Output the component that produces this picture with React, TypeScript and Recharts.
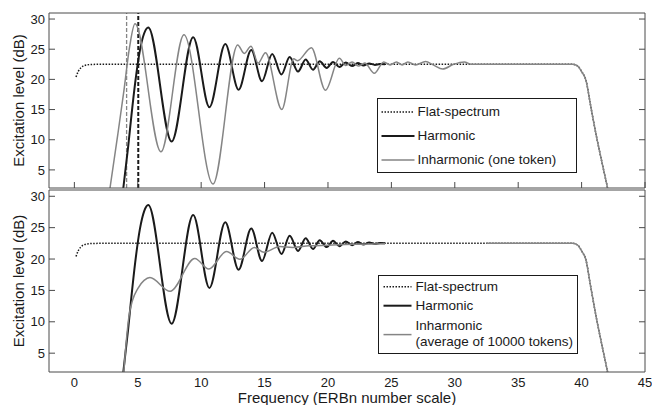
import React from "react";
import { LineChart, Line, XAxis, YAxis, ReferenceLine, Legend } from "recharts";

const W = 652;
const H = 405;
const FONT = '"Liberation Sans", Arial, Helvetica, sans-serif';
const INK = "#1a1a1a";
const GREY = "#858585";
const FRAME = "#4a4a4a";

const freqTicks = [0, 5, 10, 15, 20, 25, 30, 35, 40, 45];
const levelTicks = [5, 10, 15, 20, 25, 30];
const freqDomain: [number, number] = [-2, 45];
const levelDomain: [number, number] = [2, 31];

// all three patterns fall off together above ~39 ERBn
const rollOffF = [39.3, 39.7, 40.0, 40.35, 40.7, 41.1, 41.6, 42.05];
const rollOffDb = [22.5, 22.2, 21.3, 19.8, 15.8, 11.3, 6.3, 2.0];

const flatF = [0.13, 0.3, 0.5, 0.8, 1.2, 2.0, 30];
const flatDb = [20.4, 21.3, 21.9, 22.3, 22.45, 22.5, 22.5];

const harmonicF = [3.86, 4.25, 4.5, 4.8, 5.17, 5.5, 5.83, 7.67, 9.37, 10.65, 11.9, 12.95, 13.95, 14.8, 15.6, 16.33, 16.98, 17.64, 18.24, 18.82, 19.35, 19.9, 20.4, 20.9, 21.4, 21.9, 22.35, 22.8, 23.25, 23.7, 24.1, 24.5];
const harmonicDb = [2, 9, 14, 19.5, 24.8, 27.6, 28.6, 9.7, 27.0, 15.4, 25.85, 18.3, 24.85, 19.7, 24.2, 20.8, 23.7, 21.3, 23.3, 21.6, 23.0, 21.9, 22.9, 22.05, 22.8, 22.2, 22.7, 22.3, 22.65, 22.4, 22.55, 22.5];

const oneTokenF = [2.81, 3.4, 3.9, 4.35, 4.78, 6.83, 8.64, 10.93, 12.88, 13.39, 13.93, 14.49, 15.07, 16.36, 17.3, 17.6, 18.69, 19.8, 20.9, 21.4, 21.9, 22.4, 22.9, 23.65, 24.4, 24.9, 25.4, 25.85, 26.3, 26.9, 27.7, 28.3, 29.05, 29.9, 30.75, 31.3, 35];
const oneTokenDb = [2, 10.5, 18, 25.3, 29.2, 8.0, 27.4, 2.65, 25.7, 24.3, 25.5, 22.7, 24.4, 15.0, 23.4, 23.1, 25.25, 18.2, 23.5, 22.3, 22.9, 22.2, 22.7, 21.0, 22.9, 22.4, 22.9, 22.4, 22.9, 22.4, 22.95, 22.4, 21.7, 22.5, 22.9, 22.5, 22.5];

const averageF = [3.9, 4.1, 4.3, 4.6, 5.0, 5.5, 5.96, 7.55, 9.5, 10.6, 12.0, 13.05, 14.2, 14.95, 16.2, 17.2, 18.5, 20.0, 22.0, 24.5, 28, 32.5];
const averageDb = [2, 7, 10.8, 13.5, 15.3, 16.6, 17.05, 14.85, 20.1, 18.4, 21.2, 19.95, 21.85, 21.1, 22.0, 21.85, 22.1, 22.2, 22.35, 22.45, null, 22.5];

// F0 markers in the upper panel
const f0Inharmonic = 4.12;
const f0Harmonic = 5.04;

const pts = (f: number[], db: (number | null)[]) => f.map((x, i) => ({ f: x, db: db[i] }));

const flatData = pts([...flatF, ...rollOffF], [...flatDb, ...rollOffDb]);
const harmonicData = pts(harmonicF, harmonicDb);
const oneTokenData = pts([...oneTokenF, ...rollOffF], [...oneTokenDb, ...rollOffDb]);
const averageData = pts([...averageF, ...rollOffF], [...averageDb, ...rollOffDb]);

const FLAT = "Flat-spectrum";
const HARM = "Harmonic";
const ONE = "Inharmonic (one token)";
const AVG = "Inharmonic (average of 10000 tokens)";
const labelLines: Record<string, string[]> = {
  [AVG]: ["Inharmonic", "(average of 10000 tokens)"],
};

const tickStyle = { fontSize: 13, fill: INK };
const frameLine = { stroke: FRAME, strokeWidth: 1 };
// tick marks only, no text
const noLabel = () => <g />;

// Box frame with inward ticks on all four sides. Mirror axes draw the
// frame + ticks without eating into the plot offsets; the label-only axes
// (left, and bottom on the lower panel) sit outside.
function axes(withFreqLabels: boolean) {
  const xCommon = { type: "number" as const, domain: freqDomain, ticks: freqTicks, interval: 0 as const, allowDataOverflow: true };
  const yCommon = { type: "number" as const, domain: levelDomain, ticks: levelTicks, interval: 0 as const, allowDataOverflow: true };
  const tickOnly = { mirror: true, tick: noLabel, tickSize: 6, tickMargin: 0, axisLine: frameLine, tickLine: frameLine };
  return [
    withFreqLabels ? (
      <XAxis
        key="xb"
        xAxisId="b"
        dataKey="f"
        {...xCommon}
        height={33}
        tick={tickStyle}
        tickLine={false}
        axisLine={false}
        tickSize={0}
        tickMargin={5.5}
        label={{ value: "Frequency (ERBn number scale)", position: "insideBottom", offset: 2, style: { fontSize: 15, fill: INK } }}
      />
    ) : (
      <XAxis key="xb" xAxisId="b" dataKey="f" {...xCommon} height={10} {...tickOnly} />
    ),
    withFreqLabels ? <XAxis key="xbm" xAxisId="bm" {...xCommon} height={10} {...tickOnly} /> : null,
    <XAxis key="xt" xAxisId="t" orientation="top" {...xCommon} height={10} {...tickOnly} />,
    <YAxis
      key="yl"
      yAxisId="l"
      {...yCommon}
      width={40}
      tick={tickStyle}
      tickLine={false}
      axisLine={false}
      tickSize={0}
      tickMargin={4}
      label={{
        value: "Excitation level (dB)",
        angle: -90,
        position: "insideLeft",
        offset: 10,
        style: { textAnchor: "middle", fontSize: 15, fill: INK },
      }}
    />,
    <YAxis key="ylm" yAxisId="lm" {...yCommon} width={10} {...tickOnly} />,
    <YAxis key="yrm" yAxisId="rm" orientation="right" {...yCommon} width={10} {...tickOnly} />,
  ].filter(Boolean);
}

type LegendOpts = {
  rowHeight: number;
  lineHeight: number;
  padTop: number;
  sampleX: number;
  sampleW: number;
  textX: number;
  multiGap: number;
};

function LegendBox({ payload, opts }: { payload?: any[]; opts: LegendOpts }) {
  return (
    <div
      style={{
        width: "100%",
        height: "100%",
        boxSizing: "border-box",
        border: `1.5px solid ${INK}`,
        background: "#fff",
        paddingTop: opts.padTop,
        fontFamily: FONT,
        fontSize: 13.5,
        color: INK,
      }}
    >
      {(payload || []).map((entry) => {
        const lines = labelLines[entry.value] || [entry.value];
        const multi = lines.length > 1;
        const h = multi ? lines.length * opts.lineHeight : opts.rowHeight;
        const p = entry.payload || {};
        return (
          <div key={entry.value} style={{ position: "relative", height: h, marginTop: multi ? opts.multiGap : 0 }}>
            <svg width={opts.textX} height={h} style={{ position: "absolute", left: 0, top: 0 }}>
              <line
                x1={opts.sampleX}
                x2={opts.sampleX + opts.sampleW}
                y1={h / 2}
                y2={h / 2}
                stroke={entry.color}
                strokeWidth={p.strokeWidth || 1.5}
                strokeDasharray={p.strokeDasharray}
              />
            </svg>
            <div style={{ position: "absolute", left: opts.textX, top: 0 }}>
              {lines.map((t: string) => {
                const lh = multi ? opts.lineHeight : h;
                return (
                  <div key={t} style={{ height: lh, lineHeight: `${lh}px`, whiteSpace: "nowrap" }}>
                    {t}
                  </div>
                );
              })}
            </div>
          </div>
        );
      })}
    </div>
  );
}

const lineCommon = {
  xAxisId: "b",
  yAxisId: "l",
  dataKey: "db",
  type: "monotone" as const,
  dot: false,
  activeDot: false,
  isAnimationActive: false,
  connectNulls: false,
  legendType: "line" as const,
};

export default function App() {
  return (
    <div style={{ position: "absolute", left: 0, top: 0, width: W, height: H, background: "#fff", fontFamily: FONT }}>
      <div style={{ position: "absolute", left: 0, top: 0 }}>
        <LineChart width={W} height={H} margin={{ top: 13, right: 7, bottom: 217, left: 9 }}>
          {axes(false)}
          <ReferenceLine xAxisId="b" yAxisId="l" x={f0Inharmonic} stroke={GREY} strokeWidth={1.3} strokeDasharray="4 2" />
          <ReferenceLine xAxisId="b" yAxisId="l" x={f0Harmonic} stroke={INK} strokeWidth={2} strokeDasharray="4 2" />
          <Line {...lineCommon} data={flatData} name={FLAT} stroke={INK} strokeWidth={1.5} strokeDasharray="1.5 1.5" />
          <Line {...lineCommon} data={harmonicData} name={HARM} stroke={INK} strokeWidth={2} />
          <Line {...lineCommon} data={oneTokenData} name={ONE} stroke={GREY} strokeWidth={1.5} />
          <Legend
            layout="vertical"
            align="center"
            verticalAlign="middle"
            wrapperStyle={{ left: 377, top: 98, width: 200, height: 75 }}
            content={(props: any) => (
              <LegendBox
                payload={props.payload}
                opts={{ rowHeight: 24, lineHeight: 24, padTop: 1.2, sampleX: 3.5, sampleW: 33, textX: 39.5, multiGap: 0 }}
              />
            )}
          />
        </LineChart>
      </div>
      <div style={{ position: "absolute", left: 0, top: 0 }}>
        <LineChart width={W} height={H} margin={{ top: 190, right: 7, bottom: 0, left: 9 }}>
          {axes(true)}
          <Line {...lineCommon} data={flatData} name={FLAT} stroke={INK} strokeWidth={1.5} strokeDasharray="1.5 1.5" />
          <Line {...lineCommon} data={harmonicData} name={HARM} stroke={INK} strokeWidth={2} />
          <Line {...lineCommon} data={averageData} name={AVG} stroke={GREY} strokeWidth={1.5} />
          <Legend
            layout="vertical"
            align="center"
            verticalAlign="middle"
            wrapperStyle={{ left: 378, top: 275, width: 200, height: 79 }}
            content={(props: any) => (
              <LegendBox
                payload={props.payload}
                opts={{ rowHeight: 19.4, lineHeight: 16.6, padTop: 1.1, sampleX: 4.5, sampleW: 28, textX: 36.5, multiGap: 2 }}
              />
            )}
          />
        </LineChart>
      </div>
    </div>
  );
}
